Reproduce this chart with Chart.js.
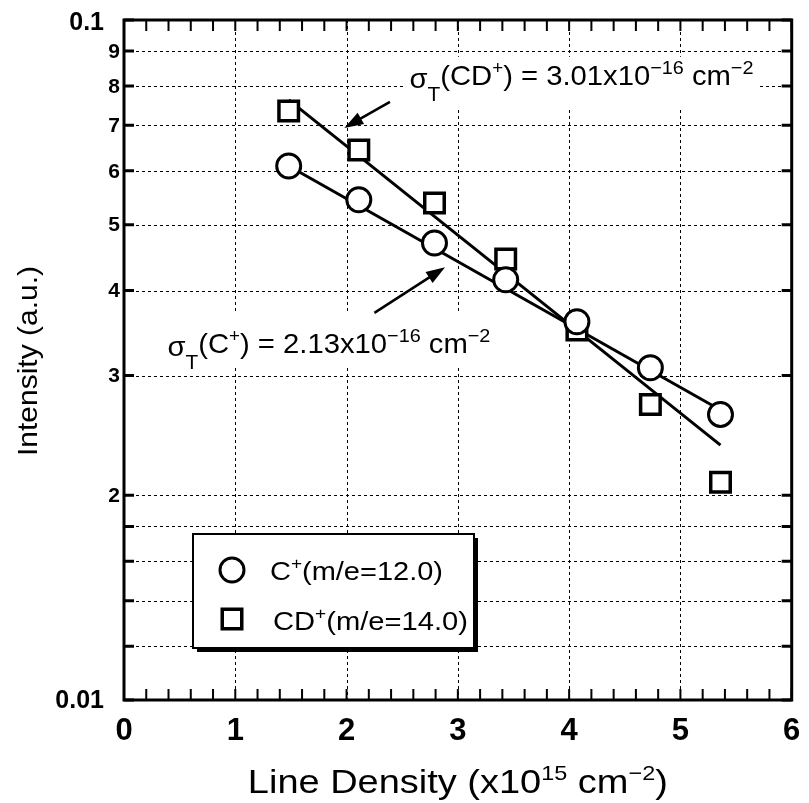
<!DOCTYPE html>
<html>
<head>
<meta charset="utf-8">
<script src="https://cdn.jsdelivr.net/npm/chart.js@4.4.0/dist/chart.umd.min.js"></script>
<style>
  html, body { margin: 0; padding: 0; background: #fff; }
  canvas { display: block; }
</style>
</head>
<body>
<canvas id="chart" width="809" height="803" style="width:809px;height:803px"></canvas>
<script>
// ----------------------------------------
// Data
// ----------------------------------------
const lineDensity = [1.48, 2.11, 2.79, 3.43, 4.07, 4.73, 5.36];
const cPlusIntensity = [0.0610, 0.0544, 0.0470, 0.0415, 0.0360, 0.0308, 0.0263];
const cdPlusIntensity = [0.0735, 0.0644, 0.0538, 0.0445, 0.0350, 0.0272, 0.0209];

// fitted lines (end points)
const fitX = [1.48, 5.36];
const cPlusFit = [0.0610, 0.0267];
const cdPlusFit = [0.0763, 0.0237];

// axes
const xTicks = [0, 1, 2, 3, 4, 5, 6];
const xTickLabels = ['0', '1', '2', '3', '4', '5', '6'];
const yTicks = [0.01, 0.012, 0.014, 0.016, 0.018, 0.02, 0.03, 0.04, 0.05, 0.06, 0.07, 0.08, 0.09, 0.1];
const yTickLabels = ['0.01', '', '', '', '', '2', '3', '4', '5', '6', '7', '8', '9', '0.1'];

const legendLabels = ['C', 'CD'];

const FONT = "'Liberation Sans', Arial, sans-serif";

const toPoints = (xs, ys) => xs.map((x, i) => ({ x: x, y: ys[i] }));

// ----------------------------------------
// Helpers
// ----------------------------------------
function setFont(ctx, size, bold) {
  ctx.font = (bold ? 'bold ' : '') + size + 'px ' + FONT;
}

// text made of pieces (sub/superscripts), optionally stretched to a width
function drawRich(ctx, parts, x, y, width, align) {
  let natural = 0;
  parts.forEach(p => {
    setFont(ctx, p.size, p.bold);
    p.w = ctx.measureText(p.t).width;
    natural += p.w;
  });
  const sx = width ? width / natural : 1;
  ctx.save();
  ctx.translate(align === 'center' ? x - natural * sx / 2 : x, y);
  ctx.scale(sx, 1);
  ctx.textAlign = 'left';
  ctx.textBaseline = 'alphabetic';
  let cx = 0;
  parts.forEach(p => {
    setFont(ctx, p.size, p.bold);
    ctx.fillText(p.t, cx, p.dy || 0);
    cx += p.w;
  });
  ctx.restore();
}

function arrow(ctx, x1, y1, x2, y2) {
  const ang = Math.atan2(y2 - y1, x2 - x1);
  const L = 19, W = 6.5;
  const bx = x2 - L * Math.cos(ang), by = y2 - L * Math.sin(ang);
  ctx.lineWidth = 2.5;
  ctx.beginPath();
  ctx.moveTo(x1, y1);
  ctx.lineTo(bx + 4 * Math.cos(ang), by + 4 * Math.sin(ang));
  ctx.stroke();
  ctx.beginPath();
  ctx.moveTo(x2, y2);
  ctx.lineTo(bx + W * Math.sin(ang), by - W * Math.cos(ang));
  ctx.lineTo(bx - W * Math.sin(ang), by + W * Math.cos(ang));
  ctx.closePath();
  ctx.fill();
}

// ----------------------------------------
// Plot decorations: grid, frame, ticks, labels, notes, legend
// ----------------------------------------
const decorations = {
  id: 'decorations',
  beforeDatasetsDraw(chart) {
    const { ctx, chartArea: a, scales: { x, y } } = chart;
    ctx.save();
    ctx.strokeStyle = '#000';
    ctx.lineWidth = 1;
    ctx.setLineDash([3, 3]);
    ctx.beginPath();
    xTicks.slice(1, -1).forEach(v => {
      const px = Math.round(x.getPixelForValue(v)) + 0.5;
      ctx.moveTo(px, a.top);
      ctx.lineTo(px, a.bottom);
    });
    yTicks.slice(1, -1).forEach(v => {
      const py = Math.round(y.getPixelForValue(v)) + 0.5;
      ctx.moveTo(a.left, py);
      ctx.lineTo(a.right, py);
    });
    ctx.stroke();
    ctx.restore();
  },
  afterDatasetsDraw(chart) {
    const { ctx, chartArea: a, scales: { x, y } } = chart;
    ctx.save();
    ctx.strokeStyle = '#000';
    ctx.fillStyle = '#000';

    // frame
    ctx.lineWidth = 3;
    ctx.strokeRect(a.left, a.top, a.right - a.left, a.bottom - a.top);

    // x ticks (every 0.2, top and bottom, inward)
    ctx.lineWidth = 2;
    ctx.beginPath();
    for (let i = 0; i <= 30; i++) {
      const px = x.getPixelForValue(i * 0.2);
      ctx.moveTo(px, a.top); ctx.lineTo(px, a.top + 11);
      ctx.moveTo(px, a.bottom); ctx.lineTo(px, a.bottom - 11);
    }
    ctx.stroke();

    // y ticks (left and right, inward)
    ctx.lineWidth = 3;
    ctx.beginPath();
    yTicks.forEach(v => {
      const py = y.getPixelForValue(v);
      ctx.moveTo(a.left, py); ctx.lineTo(a.left + 10, py);
      ctx.moveTo(a.right, py); ctx.lineTo(a.right - 10, py);
    });
    ctx.stroke();

    // x tick labels
    ctx.textAlign = 'center';
    ctx.textBaseline = 'middle';
    setFont(ctx, 31, true);
    xTicks.forEach((v, i) => {
      ctx.fillText(xTickLabels[i], x.getPixelForValue(v), a.bottom + 31);
    });

    // y tick labels
    ctx.textAlign = 'right';
    yTicks.forEach((v, i) => {
      const lbl = yTickLabels[i];
      if (!lbl) return;
      const py = y.getPixelForValue(v);
      if (lbl.indexOf('.') >= 0) {
        setFont(ctx, 25, true);
        ctx.fillText(lbl, a.left - 20, py + (v > 0.05 ? 3 : 1));
      } else {
        setFont(ctx, 21, true);
        ctx.fillText(lbl, a.left - 4, py + 1);
      }
    });

    // axis titles
    drawRich(ctx, [
      { t: 'Line Density (x10', size: 34 },
      { t: '15', size: 21, dy: -13 },
      { t: ' cm', size: 34 },
      { t: '\u22122', size: 21, dy: -13 },
      { t: ')', size: 34 }
    ], (a.left + a.right) / 2, 793, 420, 'center');

    ctx.save();
    ctx.translate(27, (a.top + a.bottom) / 2 + 1);
    ctx.rotate(-Math.PI / 2);
    setFont(ctx, 28, false);
    const yt = 'Intensity (a.u.)';
    const ytw = ctx.measureText(yt).width;
    ctx.scale(190 / ytw, 1);
    ctx.textAlign = 'center';
    ctx.textBaseline = 'alphabetic';
    ctx.fillText(yt, 0, 10);
    ctx.restore();

    // cross-section notes
    const noteCD = [
      { t: '\u03c3', size: 28, dy: 3 },
      { t: 'T', size: 20, dy: 16 },
      { t: '(CD', size: 28 },
      { t: '+', size: 18, dy: -11 },
      { t: ') = 3.01x10', size: 28 },
      { t: '\u221216', size: 19, dy: -11 },
      { t: ' cm', size: 28 },
      { t: '\u22122', size: 19, dy: -11 }
    ];
    const noteC = [
      { t: '\u03c3', size: 28, dy: 3 },
      { t: 'T', size: 20, dy: 16 },
      { t: '(C', size: 28 },
      { t: '+', size: 18, dy: -11 },
      { t: ') = 2.13x10', size: 28 },
      { t: '\u221216', size: 19, dy: -11 },
      { t: ' cm', size: 28 },
      { t: '\u22122', size: 19, dy: -11 }
    ];
    const cdX = x.getPixelForValue(2.565), cdY = y.getPixelForValue(0.0803);
    const cX = x.getPixelForValue(0.39), cY = y.getPixelForValue(0.0324);
    ctx.fillStyle = '#fff';
    ctx.fillRect(cdX - 4, cdY - 28, 352, 51);
    ctx.fillRect(cX - 4, cY - 40, 331, 54);
    ctx.fillStyle = '#000';
    drawRich(ctx, noteCD, cdX, cdY, 344);
    drawRich(ctx, noteC, cX, cY, 323);

    arrow(ctx, x.getPixelForValue(2.39), y.getPixelForValue(0.0758),
               x.getPixelForValue(1.98), y.getPixelForValue(0.0694));
    arrow(ctx, x.getPixelForValue(2.25), y.getPixelForValue(0.0371),
               x.getPixelForValue(2.885), y.getPixelForValue(0.0433));

    // legend box with shadow
    const L = 193, T = 534, R = 474, B = 648;
    ctx.fillStyle = '#000';
    ctx.fillRect(L + 4, T + 4, R - L, B - T);
    ctx.fillStyle = '#fff';
    ctx.fillRect(L, T, R - L, B - T);
    ctx.lineWidth = 2;
    ctx.strokeRect(L, T, R - L, B - T);

    const sets = chart.data.datasets;
    [0, 1].forEach(i => {
      const ds = sets[i];
      const cy = i === 0 ? 570 : 619;
      ctx.fillStyle = '#fff';
      ctx.strokeStyle = '#000';
      ctx.lineWidth = ds.borderWidth;
      Chart.helpers.drawPoint(ctx, { pointStyle: ds.pointStyle, radius: ds.pointRadius, borderWidth: ds.borderWidth, rotation: 0 }, 232, cy);
      ctx.fillStyle = '#000';
      drawRich(ctx, [
        { t: legendLabels[i], size: 26 },
        { t: '+', size: 17, dy: -11 },
        { t: i === 0 ? '(m/e=12.0)' : '(m/e=14.0)', size: 26 }
      ], i === 0 ? 270 : 273, i === 0 ? 580 : 630, i === 0 ? 173 : 195);
    });

    ctx.restore();
  }
};

// ----------------------------------------
// Chart
// ----------------------------------------
new Chart(document.getElementById('chart'), {
  type: 'scatter',
  data: {
    datasets: [
      {
        label: 'C+(m/e=12.0)',
        data: toPoints(lineDensity, cPlusIntensity),
        pointStyle: 'circle',
        pointRadius: 12,
        borderWidth: 3,
        borderColor: '#000',
        backgroundColor: '#fff',
        order: 0
      },
      {
        label: 'CD+(m/e=14.0)',
        data: toPoints(lineDensity, cdPlusIntensity),
        pointStyle: 'rect',
        pointRadius: 13.8,
        borderWidth: 3.5,
        borderColor: '#000',
        backgroundColor: '#fff',
        order: 0
      },
      {
        type: 'line',
        label: 'fit C+',
        data: toPoints(fitX, cPlusFit),
        borderColor: '#000',
        borderWidth: 3,
        pointRadius: 0,
        fill: false,
        tension: 0,
        order: 1
      },
      {
        type: 'line',
        label: 'fit CD+',
        data: toPoints(fitX, cdPlusFit),
        borderColor: '#000',
        borderWidth: 3,
        pointRadius: 0,
        fill: false,
        tension: 0,
        order: 1
      }
    ]
  },
  options: {
    responsive: false,
    animation: false,
    layout: { padding: { left: 124, right: 9, top: 20, bottom: 103 } },
    scales: {
      x: { type: 'linear', min: 0, max: 6, display: false },
      y: { type: 'logarithmic', min: 0.01, max: 0.1, display: false }
    },
    plugins: {
      legend: { display: false },
      tooltip: { enabled: false }
    }
  },
  plugins: [decorations]
});
</script>
</body>
</html>
